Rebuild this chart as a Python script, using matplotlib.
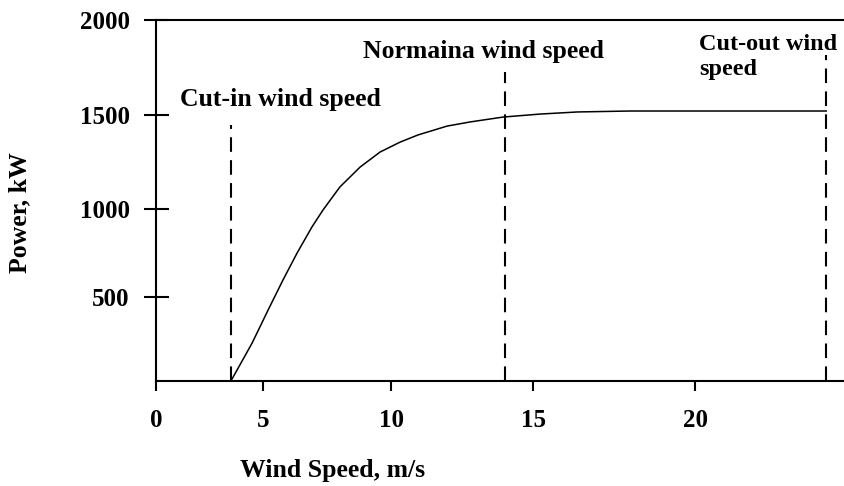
import numpy as np
import matplotlib
matplotlib.use('Agg')
import matplotlib.pyplot as plt

# power curve
wind_speed = [3.5, 4.49, 5.2, 5.78, 6.33, 6.91, 7.34, 8.0, 8.79, 9.57, 10.32, 10.95,
              11.97, 12.78, 13.94, 15.22, 16.37, 18.0, 25.0]
power_kw = [0, 226, 423, 597, 750, 898, 994, 1117, 1223, 1303, 1356, 1394,
            1441, 1463, 1489, 1505, 1516, 1521, 1521]

cut_in, nominal, cut_out = 3.5, 14.0, 25.0
line_tops = [1447, 1726, 1816]

x_ticks = [0, 5, 10, 15, 20]
y_ticks = [500, 1000, 1500, 2000]

# the scanned axes are not evenly spaced, so use a warped scale
sx_pts = [0, 5, 10, 15, 20, 25, 30]
sx_pix = [0, 107, 235, 377, 539, 670, 804]
sy_pts = [0, 500, 1000, 1500, 2000, 2500]
sy_pix = [0, 84, 172, 266, 361, 456]

def fx(v):
    return np.interp(v, sx_pts, sx_pix)

def ix(v):
    return np.interp(v, sx_pix, sx_pts)

def fy(v):
    return np.interp(v, sy_pts, sy_pix)

def iy(v):
    return np.interp(v, sy_pix, sy_pts)

plt.rcParams['font.family'] = 'Liberation Serif'
plt.rcParams['font.weight'] = 'bold'

fig = plt.figure(figsize=(8.45, 4.86), dpi=100)
ax = fig.add_axes([156 / 845, 105 / 486, 689 / 845, 361 / 486])
ax.set_xscale('function', functions=(fx, ix))
ax.set_yscale('function', functions=(fy, iy))

ax.plot(wind_speed, power_kw, color='black', lw=1.1, solid_joinstyle='round')

for xv, top in zip([cut_in, nominal, cut_out], line_tops):
    ax.plot([xv, xv], [0, top], color='black', lw=1.5, dashes=(7, 4))

ax.set_xlim(0, 25.7)
ax.set_ylim(0, 2000)
ax.set_xticks(x_ticks)
ax.set_yticks(y_ticks)
ax.tick_params(axis='y', direction='inout', length=18, width=1.5, pad=10, labelsize=18)
ax.tick_params(axis='x', direction='out', length=7, width=1.5, pad=13, labelsize=18)

ax.spines['right'].set_visible(False)
for s in ['left', 'bottom', 'top']:
    ax.spines[s].set_linewidth(1.5)

ax.text(1.1, 1580, 'Cut-in wind speed', fontsize=18.5, fontweight='bold', va='center')
ax.text(8.9, 1832, 'Normaina wind speed', fontsize=18.5, fontweight='bold', va='center')
ax.text(20.15, 1805, 'Cut-out wind\nspeed', fontsize=17.5, fontweight='bold', va='center',
        linespacing=1.25)

fig.text(333 / 845, 1 - 470 / 486, 'Wind Speed, m/s', fontsize=18.5, fontweight='bold',
         ha='center', va='center')
fig.text(20 / 845, 1 - 213 / 486, 'Power, kW', fontsize=18.5, fontweight='bold',
         ha='center', va='center', rotation=90)

fig.savefig('out.png', dpi=100)
